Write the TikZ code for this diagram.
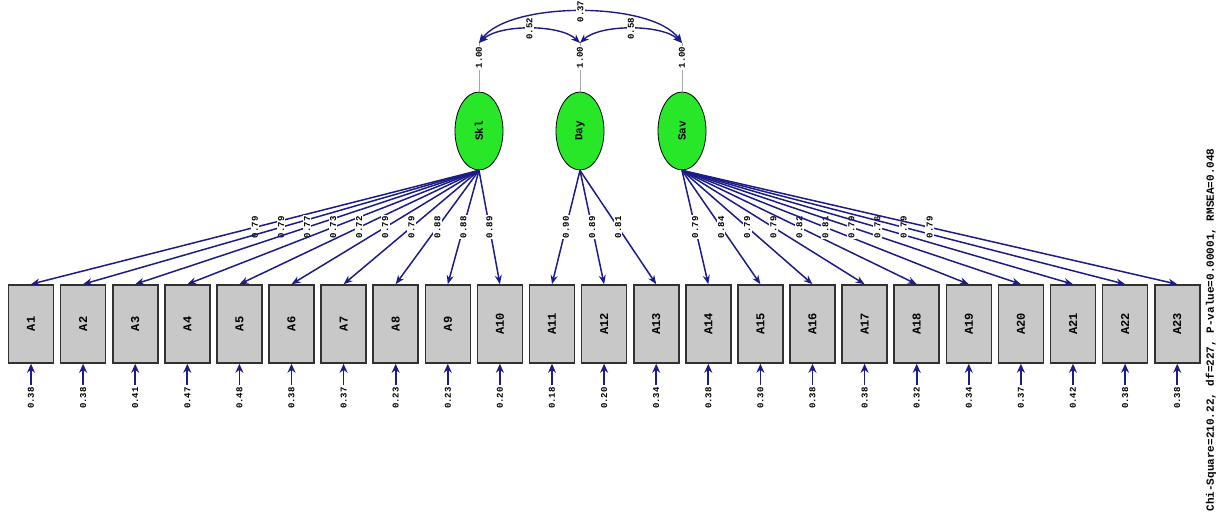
\documentclass[tikz,border=0pt]{standalone}
\usepackage{fontspec}
\usepackage{graphicx}
\setmainfont{Liberation Mono}
\usetikzlibrary{arrows.meta,calc,shapes.geometric}
\definecolor{navy}{RGB}{28,28,135}
\definecolor{boxgray}{RGB}{200,200,200}
\definecolor{latgreen}{RGB}{40,230,40}
\begin{document}
\begin{tikzpicture}[x=1pt,y=-1pt,
  obsbox/.style={draw={rgb,255:red,50;green,50;blue,50},line width=1.6pt,fill=boxgray,minimum width=45pt,minimum height=78pt,inner sep=0pt,font=\fontsize{12}{12}\selectfont\bfseries},
  latent/.style={ellipse,draw=black,line width=0.8pt,fill=latgreen,minimum width=48pt,minimum height=78pt,inner sep=0pt,font=\fontsize{11}{11}\selectfont\bfseries},
  num/.style={font=\fontsize{9}{9}\selectfont\bfseries,rotate=90,fill=white,inner sep=1.2pt},
  load/.style={draw=navy,line width=1.5pt,-{Stealth[length=9pt,width=7pt]}},
  errarr/.style={draw=navy,line width=1.7pt,-{Stealth[length=9pt,width=8pt]}},
  covarr/.style={draw=navy,line width=1.4pt,{Stealth[length=9pt,width=7pt]}-{Stealth[length=9pt,width=7pt]}},
  varline/.style={draw=gray!70,line width=0.6pt}
]
\useasboundingbox (0,0) rectangle (1221,526);

% latent variables
\node[latent] (Skl) at (479,131) {\rotatebox{90}{Skl}};
\node[latent] (Day) at (580,131) {\rotatebox{90}{Day}};
\node[latent] (Sav) at (682,131) {\rotatebox{90}{Sav}};

\coordinate (ST) at (479,43);
\coordinate (DT) at (580,43);
\coordinate (VT) at (682,43);

\draw[varline] (Skl.north) -- node[num,pos=0.7] {1.00} (ST);
\draw[varline] (Day.north) -- node[num,pos=0.7] {1.00} (DT);
\draw[varline] (Sav.north) -- node[num,pos=0.7] {1.00} (VT);

% covariances
\draw[covarr] (ST) .. controls ($(ST)+(30,-42)$) and ($(VT)+(-30,-42)$) .. node[num] {0.37} (VT);
\draw[covarr] (ST) .. controls ($(ST)+(20,-19)$) and ($(DT)+(-20,-19)$) .. node[num] {0.52} (DT);
\draw[covarr] (DT) .. controls ($(DT)+(20,-19)$) and ($(VT)+(-20,-19)$) .. node[num] {0.58} (VT);

% observed variables with error variances
\foreach \i/\e in {1/0.38,2/0.38,3/0.41,4/0.47,5/0.48,6/0.38,7/0.37,8/0.23,9/0.23,10/0.20,11/0.18,12/0.20,13/0.34,14/0.38,15/0.30,16/0.38,17/0.38,18/0.32,19/0.34,20/0.37,21/0.42,22/0.38,23/0.38}{
  \node[obsbox] (A\i) at ({31+52.1*(\i-1)},324) {\rotatebox{90}{A\i}};
  \node[num,inner sep=2pt] (e\i) at ({31+52.1*(\i-1)},398) {\e};
  \draw[errarr] (e\i) -- (A\i.south);
}

% loadings
\foreach \i/\l in {1/0.79,2/0.79,3/0.77,4/0.73,5/0.72,6/0.79,7/0.79,8/0.88,9/0.88,10/0.89}{
  \draw[load] (Skl.south) -- node[num] {\l} (A\i.north);
}
\foreach \i/\l in {11/0.90,12/0.89,13/0.81}{
  \draw[load] (Day.south) -- node[num] {\l} (A\i.north);
}
\foreach \i/\l in {14/0.79,15/0.84,16/0.79,17/0.79,18/0.82,19/0.81,20/0.79,21/0.76,22/0.79,23/0.79}{
  \draw[load] (Sav.south) -- node[num] {\l} (A\i.north);
}

% fit statistics
\node[font=\fontsize{11}{11}\selectfont\bfseries,rotate=90,inner sep=0pt] (fit) at (1211,330) {Chi-Square=210.22, df=227, P-value=0.00001, RMSEA=0.048};
\end{tikzpicture}
\end{document}
